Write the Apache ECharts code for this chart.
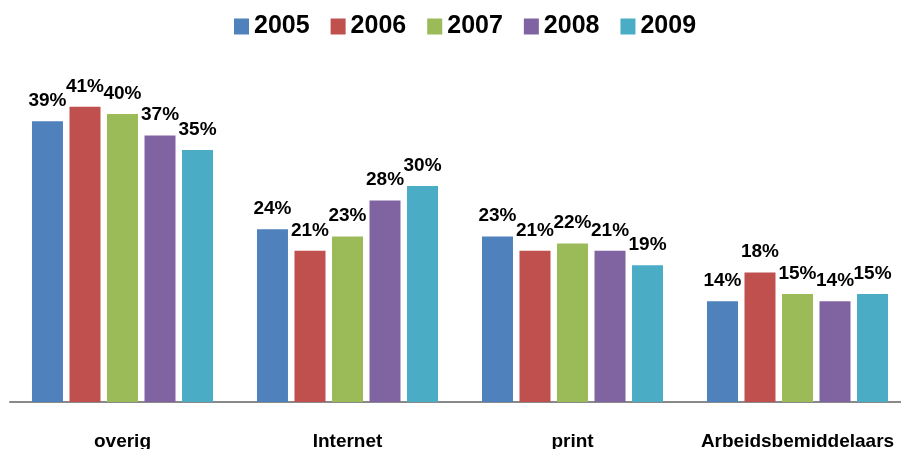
<!DOCTYPE html>
<html>
<head>
<meta charset="utf-8">
<script src="https://cdn.jsdelivr.net/npm/echarts@6/dist/echarts.min.js"></script>
<style>html,body{margin:0;padding:0;background:#fff;overflow:hidden}#c{width:901px;height:449px}</style>
</head>
<body>
<div id="c"></div>
<script>
const categories = ['overig', 'Internet', 'print', 'Arbeidsbemiddelaars'];
const years = ['2005', '2006', '2007', '2008', '2009'];
const colors = ['#4F81BD', '#C0504D', '#9BBB59', '#8064A2', '#4BACC6'];
const v2005 = [39, 24, 23, 14];
const v2006 = [41, 21, 21, 18];
const v2007 = [40, 23, 22, 15];
const v2008 = [37, 28, 21, 14];
const v2009 = [35, 30, 19, 15];
const seriesValues = [v2005, v2006, v2007, v2008, v2009];

const chart = echarts.init(document.getElementById('c'), null, {renderer: 'canvas'});
chart.setOption({
  animation: false,
  color: colors,
  legend: {
    data: years,
    left: 229,
    top: 9,
    itemWidth: 15,
    itemHeight: 16,
    itemGap: 21,
    icon: 'rect',
    textStyle: {fontFamily: 'Liberation Sans', fontWeight: 'bold', fontSize: 25, color: '#000'}
  },
  grid: {left: 10, right: -9, top: 42, bottom: 47, containLabel: false, outerBoundsMode: 'none'},
  xAxis: {
    type: 'category',
    data: categories,
    axisLine: {lineStyle: {color: '#898989', width: 2}},
    axisTick: {show: false},
    axisLabel: {interval: 0, margin: 30, color: '#000', fontFamily: 'Liberation Sans', fontWeight: 'bold', fontSize: 19}
  },
  yAxis: {type: 'value', min: 0, max: 50, show: false, splitLine: {show: false}},
  series: seriesValues.map((vals, i) => ({
    name: years[i],
    type: 'bar',
    data: vals,
    barWidth: 31,
    barGap: '21%',
    label: {
      show: true,
      position: 'top',
      distance: 11,
      formatter: p => p.value + '%',
      color: '#000',
      fontFamily: 'Liberation Sans',
      fontWeight: 'bold',
      fontSize: 19
    }
  }))
});
</script>
</body>
</html>
